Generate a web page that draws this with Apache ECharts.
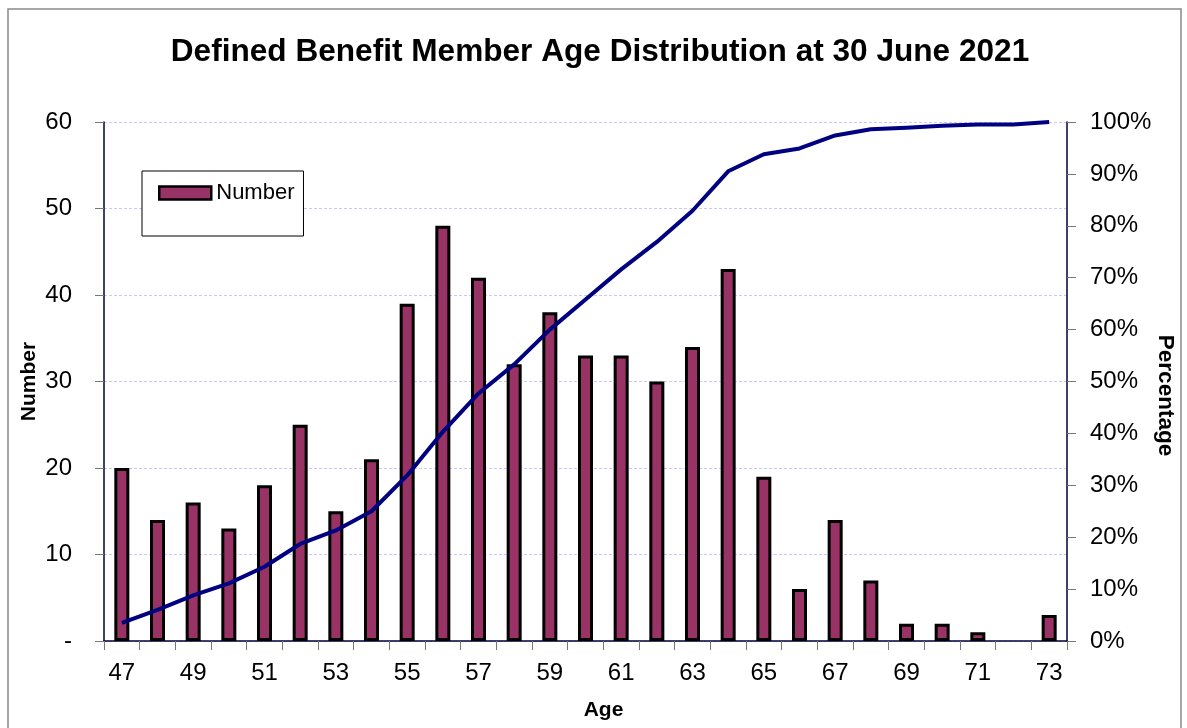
<!DOCTYPE html>
<html><head><meta charset="utf-8">
<script src="https://cdn.jsdelivr.net/npm/echarts@6/dist/echarts.min.js"></script>
<style>html,body{margin:0;padding:0;background:#fff}#c{width:1187px;height:728px}</style>
</head><body><div id="c"></div>
<script>
const ages = ['47','48','49','50','51','52','53','54','55','56','57','58','59','60','61','62','63','64','65','66','67','68','69','70','71','72','73'];
const numbers = [20,14,16,13,18,25,15,21,39,48,42,32,38,33,33,30,34,43,19,6,14,7,2,2,1,0,3];
const percentage = [3.5,6.0,8.8,11.1,14.3,18.7,21.3,25.0,31.9,40.3,47.7,53.3,60.0,65.8,71.6,76.9,82.9,90.5,93.8,94.9,97.4,98.6,98.9,99.3,99.5,99.5,100];

const chart = echarts.init(document.getElementById('c'), null, {renderer:'canvas'});
const F = 'Liberation Sans, Arial, sans-serif';
chart.setOption({
  animation:false,
  backgroundColor:'#fff',
  title:{text:'Defined Benefit Member Age Distribution at 30 June 2021', left:595, textAlign:'center', top:31,
    textStyle:{fontFamily:F, fontWeight:'bold', fontSize:31.6, color:'#000'}},
  graphic:[{type:'rect', shape:{x:8,y:9,width:1173,height:740}, style:{fill:'none', stroke:'#8a8a8a', lineWidth:1.5}, silent:true}],
  legend:{data:['Number'], left:142, top:171, orient:'vertical', backgroundColor:'#fff',
    borderColor:'#000', borderWidth:1, padding:[11,9,32,16], itemWidth:52, itemHeight:13, itemGap:0,
    icon:'rect',
    textStyle:{fontFamily:F, fontSize:22, color:'#000'},
    itemStyle:{color:'#993366', borderColor:'#000', borderWidth:2.5}},
  grid:{left:104, right:120, top:122, bottom:87, outerBoundsMode:'none', containLabel:false},
  xAxis:{type:'category', data:ages, boundaryGap:true,
    name:'Age', nameLocation:'middle', nameGap:59, nameMoveOverlap:false,
    nameTextStyle:{fontFamily:F, fontWeight:'bold', fontSize:21, color:'#000', padding:[0,0,0,36]},
    axisLine:{lineStyle:{color:'#00003a', width:1.5}},
    axisTick:{show:true, interval:0, length:9, lineStyle:{color:'#777'}},
    axisLabel:{interval:1, fontFamily:F, fontSize:24, color:'#000', margin:20}},
  yAxis:[{type:'value', min:0, max:60, interval:10, position:'left',
    name:'Number', nameLocation:'middle', nameGap:64, nameRotate:90, nameMoveOverlap:false,
    nameTextStyle:{fontFamily:F, fontWeight:'bold', fontSize:21, color:'#000'},
    axisLine:{show:true, lineStyle:{color:'#00003a', width:1.5}},
    axisTick:{show:true, length:9, lineStyle:{color:'#777'}},
    axisLabel:{fontFamily:F, fontSize:24, color:'#000', margin:32,
      formatter:v=> v===0 ? '-' : String(v)},
    splitLine:{show:true, lineStyle:{color:'#c8c8ff', type:[3,2], width:1}}},
   {type:'value', min:0, max:100, interval:10, position:'right',
    name:'Percentage', nameLocation:'middle', nameGap:87, nameRotate:-90, nameMoveOverlap:false,
    nameTextStyle:{fontFamily:F, fontWeight:'bold', fontSize:22.5, color:'#000', padding:[0,0,0,28]},
    axisLine:{show:true, lineStyle:{color:'#00003a', width:1.5}},
    axisTick:{show:true, length:9, lineStyle:{color:'#777'}},
    axisLabel:{fontFamily:F, fontSize:24, color:'#000', margin:23, formatter:'{value}%'},
    splitLine:{show:false}}],
  series:[
    {name:'Number', type:'bar', yAxisIndex:0, barWidth:15,
      data:numbers.map(v => v === 0 ? {value:v, itemStyle:{borderWidth:0}} : v),
      itemStyle:{color:'#993366', borderColor:'#000', borderWidth:3}},
    {name:'Percentage', type:'line', data:percentage, yAxisIndex:1, showSymbol:false, smooth:false,
      lineStyle:{color:'#000080', width:4, join:'round'}, z:5}
  ]
});
</script></body></html>
